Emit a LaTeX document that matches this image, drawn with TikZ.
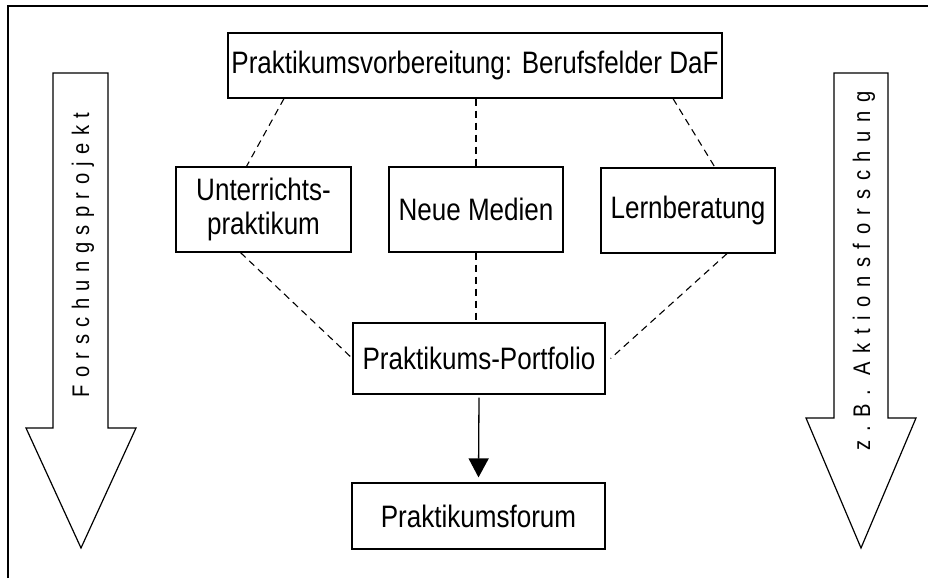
\documentclass[tikz,border=0pt]{standalone}
\usepackage{fontspec}
\setmainfont[FakeStretch=0.84]{Liberation Sans}
\newfontfamily\spacedfont[FakeStretch=0.84,LetterSpace=31]{Liberation Sans}
\newfontfamily\spacedfontB[FakeStretch=0.84,LetterSpace=36]{Liberation Sans}
\usetikzlibrary{arrows.meta}
\begin{document}
\begin{tikzpicture}[x=1pt,y=-1pt,
  box/.style={draw, line width=1.2pt, inner sep=0pt, align=center,
    font=\fontsize{31}{34}\selectfont},
  link/.style={dash pattern=on 7pt off 5pt, line width=1.1pt},
  bigarrow/.style={draw, line width=1.2pt, line join=miter},
  vlabel/.style={rotate=90, anchor=base, inner sep=0pt}]
\useasboundingbox (0,0) rectangle (928,578);
\draw[line width=1.3pt] (8,578) -- (8,6) -- (928,6);

\node[box, minimum width=494pt, minimum height=65pt] (top) at (475,65.5)
  {Praktikumsvorbereitung: Berufsfelder DaF};
\node[box, minimum width=175pt, minimum height=85pt] (U) at (263.5,209.5)
  {Unterrichts-\\praktikum};
\node[box, minimum width=174pt, minimum height=85pt] (N) at (476,209.5)
  {Neue Medien};
\node[box, minimum width=174pt, minimum height=85pt] (L) at (688,210.5)
  {Lernberatung};
\node[box, minimum width=252pt, minimum height=71pt] (P) at (479,358.5)
  {Praktikums-Portfolio};
\node[box, minimum width=253pt, minimum height=66pt] (F) at (478.5,516)
  {Praktikumsforum};

\draw[link] ([xshift=-191pt]top.south) -- ([xshift=-17pt]U.north);
\draw[link] (N.north |- top.south) -- (N.north);
\draw[link] ([xshift=198pt]top.south) -- ([xshift=27pt]L.north);
\draw[link] ([xshift=-23pt]U.south) -- (P.west);
\draw[link] (N.south) -- (N.south |- P.north);
\draw[link] ([xshift=39pt]L.south) -- ([xshift=5pt]P.east);

\draw[line width=1.3pt, -{Triangle[width=20pt,length=19pt]}]
  ([yshift=-3pt]P.south) -- ([yshift=5pt]F.north);

\draw[bigarrow] (53,73) -- (108,73) -- (108,428) -- (136,428) -- (81,548)
  -- (26,428) -- (53,428) -- cycle;
\draw[bigarrow] (834,73) -- (888,73) -- (888,418) -- (916,418) -- (861,548)
  -- (806,418) -- (834,418) -- cycle;

\node[vlabel, font=\spacedfont\fontsize{24}{24}\selectfont] (lt) at (89,255)
  {Forschungsprojekt};
\node[vlabel, font=\spacedfontB\fontsize{24}{24}\selectfont] (rt) at (870,271)
  {z.B. Aktionsforschung};
\end{tikzpicture}
\end{document}
